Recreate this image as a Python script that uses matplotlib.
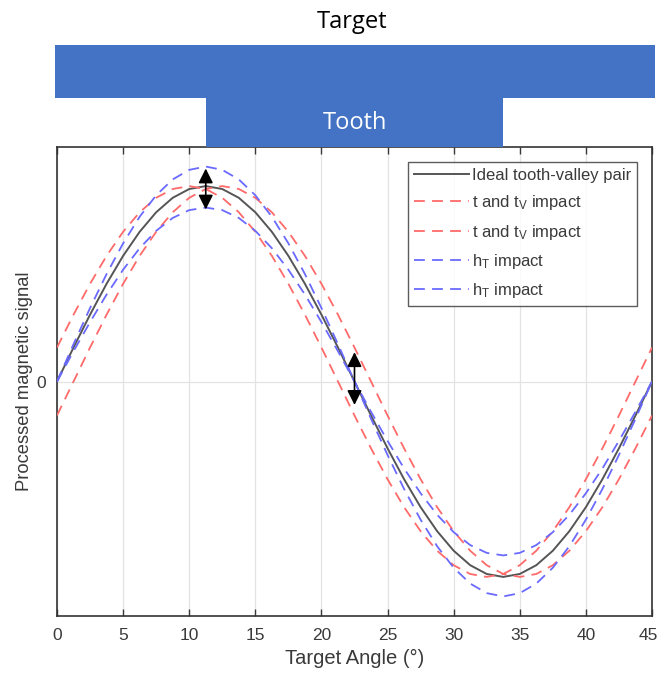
import matplotlib
matplotlib.use("Agg")
import matplotlib.pyplot as plt
from matplotlib.patches import Rectangle
from matplotlib.transforms import ScaledTranslation

# ---------------- data ----------------
angle = [0, 1.25, 2.5, 3.75, 5, 6.25, 7.5, 8.75, 10, 11.25, 12.5, 13.75, 15,
         16.25, 17.5, 18.75, 20, 21.25, 22.5, 23.75, 25, 26.25, 27.5, 28.75,
         30, 31.25, 32.5, 33.75, 35, 36.25, 37.5, 38.75, 40, 41.25, 42.5,
         43.75, 45]

ideal = [0, .174, .342, .500, .643, .766, .866, .940, .985, 1.000, .985, .940,
         .866, .766, .643, .500, .342, .174, 0, -.174, -.342, -.500, -.643,
         -.766, -.866, -.940, -.985, -1.000, -.985, -.940, -.866, -.766, -.643,
         -.500, -.342, -.174, 0]

t_impact_lead = [.174, .342, .500, .643, .766, .866, .940, .985, 1.000, .985,
                 .940, .866, .766, .643, .500, .342, .174, 0, -.174, -.342,
                 -.500, -.643, -.766, -.866, -.940, -.985, -1.000, -.985, -.940,
                 -.866, -.766, -.643, -.500, -.342, -.174, 0, .174]

t_impact_lag = [-.174, 0, .174, .342, .500, .643, .766, .866, .940, .985, 1.000,
                .985, .940, .866, .766, .643, .500, .342, .174, 0, -.174, -.342,
                -.500, -.643, -.766, -.866, -.940, -.985, -1.000, -.985, -.940,
                -.866, -.766, -.643, -.500, -.342, -.174]

h_impact_high = [0, .191, .376, .550, .707, .843, .953, 1.034, 1.083, 1.100,
                 1.083, 1.034, .953, .843, .707, .550, .376, .191, 0, -.191,
                 -.376, -.550, -.707, -.843, -.953, -1.034, -1.083, -1.100,
                 -1.083, -1.034, -.953, -.843, -.707, -.550, -.376, -.191, 0]

h_impact_low = [0, .155, .304, .445, .572, .682, .771, .837, .877, .890, .877,
                .837, .771, .682, .572, .445, .304, .155, 0, -.155, -.304,
                -.445, -.572, -.682, -.771, -.837, -.877, -.890, -.877, -.837,
                -.771, -.682, -.572, -.445, -.304, -.155, 0]

arrow_x = [11.25, 22.5]
arrow_lo = [0.88, -0.12]
arrow_hi = [1.09, 0.15]

x_ticks = [0, 5, 10, 15, 20, 25, 30, 35, 40, 45]
y_ticks = [0]

target_span = [0, 45]
tooth_span = [11.25, 33.75]

labels = ["Ideal tooth-valley pair", r"t and t$_V$ impact", r"t and t$_V$ impact",
          r"h$_T$ impact", r"h$_T$ impact"]

# ---------------- figure ----------------
W, H = 658, 677
fig = plt.figure(figsize=(W / 100, H / 100), dpi=100)
plt.rcParams['font.family'] = ['Liberation Sans', 'DejaVu Sans']
plt.rcParams['mathtext.fontset'] = 'custom'
plt.rcParams['mathtext.rm'] = 'Liberation Sans'
plt.rcParams['mathtext.it'] = 'Liberation Sans'

ax_l, ax_r, ax_t, ax_b = 57, 652, 147, 616
ax = fig.add_axes([ax_l / W, 1 - ax_b / H, (ax_r - ax_l) / W, (ax_b - ax_t) / H])

blue_c = '#4472C4'
red_c = '#ff6a6a'
bl_c = '#6a6aff'
txt_c = '#3a3a3a'

ax.plot(angle, ideal, color='#555555', lw=1.4, label=labels[0], zorder=3)
ax.plot(angle, t_impact_lead, color=red_c, lw=1.3, ls=(0, (6, 4)), label=labels[1], zorder=4)
ax.plot(angle, t_impact_lag, color=red_c, lw=1.3, ls=(0, (6, 4)), label=labels[2], zorder=4)
ax.plot(angle, h_impact_high, color=bl_c, lw=1.3, ls=(0, (6, 4)), label=labels[3], zorder=4)
ax.plot(angle, h_impact_low, color=bl_c, lw=1.3, ls=(0, (6, 4)), label=labels[4], zorder=4)

for xa, lo, hi in zip(arrow_x, arrow_lo, arrow_hi):
    ax.annotate('', xy=(xa, hi), xytext=(xa, lo),
                arrowprops=dict(arrowstyle='<|-|>', color='black', lw=1.2,
                                mutation_scale=22, shrinkA=0, shrinkB=0),
                zorder=6)

ax.set_xlim(0, 45)
ax.set_ylim(-1.2, 1.2)
ax.set_xticks(x_ticks)
ax.set_yticks(y_ticks)
ax.grid(True, color='#e3e3e3', lw=0.9)
ax.set_axisbelow(True)
ax.tick_params(direction='in', top=True, right=True, length=5, width=1,
               labelsize=12.5, colors=txt_c, pad=9)
ax.tick_params(axis='y', length=0, pad=8)
for s in ax.spines.values():
    s.set_color('#333333')
    s.set_linewidth(1.2)

# keep the last tick label ("45") inside the canvas
last = ax.get_xticklabels()[-1]
last.set_transform(last.get_transform() + ScaledTranslation(-4 / 100, 0, fig.dpi_scale_trans))

ax.set_xlabel('Target Angle (°)', fontsize=14.5, color=txt_c, labelpad=4)
ax.set_ylabel('Processed magnetic signal', fontsize=13.2, color=txt_c, labelpad=2)

leg = ax.legend(loc='upper right', bbox_to_anchor=(0.975, 0.968), fontsize=12,
                frameon=True, fancybox=False, edgecolor='#333333',
                handlelength=3.3, handletextpad=0.2, borderpad=0.35,
                labelspacing=0.62, borderaxespad=0)
leg.get_frame().set_linewidth(1.0)
for t in leg.get_texts():
    t.set_color(txt_c)

# ---------------- banner (Target / Tooth) ----------------
bx = fig.add_axes([ax_l / W, 1 - 147 / H, (ax_r - ax_l) / W, 102 / H])
bx.set_xlim(0, 45)
bx.set_ylim(0, 102)
bx.axis('off')
bx.add_patch(Rectangle((target_span[0] - 0.15, 49), target_span[1] - target_span[0] + 0.35, 53,
                       color=blue_c, clip_on=False, lw=0))
bx.add_patch(Rectangle((tooth_span[0], 0), tooth_span[1] - tooth_span[0], 50,
                       color=blue_c, clip_on=False, lw=0))
bx.text(22.5, 24, 'Tooth', color='white', ha='center', va='center',
        fontsize=17, family=['Open Sans', 'DejaVu Sans'])
fig.text(352 / W, 1 - 22 / H, 'Target', color='black', ha='center', va='center',
         fontsize=17, family=['Open Sans', 'DejaVu Sans'])

fig.savefig('out.png', dpi=100)
